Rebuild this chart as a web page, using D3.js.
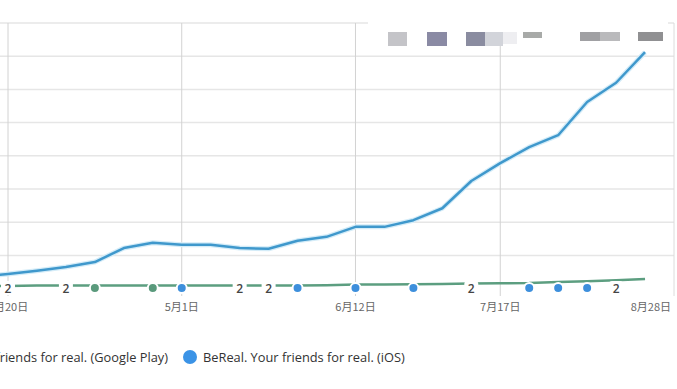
<!DOCTYPE html>
<meta charset="utf-8">
<script src="https://d3js.org/d3.v7.min.js"></script>
<style>
body { margin: 0; background: #fff; }
svg { display: block; }
</style>
<div id="chart"></div>
<script>
// weekly data points (first one sits left of the visible area)
var dates = ["2022-03-13","2022-03-20","2022-03-27","2022-04-03","2022-04-10","2022-04-17",
  "2022-04-24","2022-05-01","2022-05-08","2022-05-15","2022-05-22","2022-05-29","2022-06-05",
  "2022-06-12","2022-06-19","2022-06-26","2022-07-03","2022-07-10","2022-07-17","2022-07-24",
  "2022-07-31","2022-08-07","2022-08-14","2022-08-21"];
var iosValues = [17.5, 22, 27, 32.5, 40, 61, 69, 66, 66, 61, 60, 72, 78, 93, 93, 103, 121, 162,
  189, 213, 231, 281, 310, 356];
var playValues = [4, 4, 4.5, 4.5, 4.7, 4.7, 4.7, 4.7, 4.7, 4.7, 4.7, 4.7, 5, 6, 6, 6.5, 7, 7.5,
  8, 8.5, 10, 11, 12.5, 14.5];
var tickDates = ["2022-03-20","2022-05-01","2022-06-12","2022-07-17","2022-08-28"];
var tickLabels = ["3月20日","5月1日","6月12日","7月17日","8月28日"];
var yTicks = [50, 100, 150, 200, 250, 300, 350, 400];
// event markers along the bottom: "2" = grouped flag, g = Google Play, b = iOS
var markerDates = ["2022-03-20","2022-04-03","2022-04-10","2022-04-24","2022-05-01","2022-05-15",
  "2022-05-22","2022-05-29","2022-06-12","2022-06-26","2022-07-10","2022-07-24","2022-07-31",
  "2022-08-07","2022-08-14"];
var markerTypes = ["2","2","g","g","b","2","2","b","b","b","2","b","b","b","2"];
var seriesNames = ["BeReal. Your friends for real. (Google Play)", "BeReal. Your friends for real. (iOS)"];

var W = 677, H = 389;
var parse = d3.timeParse("%Y-%m-%d");

var svg = d3.select("#chart").append("svg")
  .attr("width", W).attr("height", H);

var x = d3.scaleTime()
  .domain([parse("2022-03-20"), parse("2022-08-28")])
  .range([8, 674]);
var y = d3.scaleLinear()
  .domain([0, 400])
  .range([288.6, 23]);

// horizontal grid
svg.append("g").selectAll("line")
  .data(yTicks).enter().append("line")
    .attr("x1", 0).attr("x2", 674)
    .attr("y1", function(d) { return y(d); })
    .attr("y2", function(d) { return y(d); })
    .attr("stroke", "#e6e6e6")
    .attr("stroke-width", 1.5);

// vertical grid at tick dates
svg.append("g").selectAll("line")
  .data(tickDates).enter().append("line")
    .attr("x1", function(d) { return x(parse(d)); })
    .attr("x2", function(d) { return x(parse(d)); })
    .attr("y1", 23).attr("y2", 296)
    .attr("stroke", function(d, i) { return i == tickDates.length - 1 ? "#dcdcdc" : "#d2d2d2"; })
    .attr("stroke-width", 1);

// tick labels
svg.append("g").selectAll("text")
  .data(tickDates).enter().append("text")
    .attr("x", function(d, i) { return i == tickDates.length - 1 ? 671 : x(parse(d)); })
    .attr("y", 311)
    .attr("text-anchor", function(d, i) { return i == tickDates.length - 1 ? "end" : "middle"; })
    .attr("font-family", "'Noto Sans CJK SC', 'Noto Sans', sans-serif")
    .attr("font-size", "11px")
    .attr("fill", "#666")
    .text(function(d, i) { return tickLabels[i]; });

// lines
var line = d3.line()
  .x(function(d) { return x(parse(d[0])); })
  .y(function(d) { return y(d[1]); });

svg.append("path")
  .datum(d3.zip(dates, playValues))
  .attr("d", line)
  .attr("fill", "none")
  .attr("stroke", "#5c9e80")
  .attr("stroke-width", 2.5);

svg.append("path")
  .datum(d3.zip(dates, iosValues))
  .attr("d", line)
  .attr("fill", "none")
  .attr("stroke", "#d4ecf8")
  .attr("stroke-width", 5)
  .attr("stroke-linejoin", "round");
svg.append("path")
  .datum(d3.zip(dates, iosValues))
  .attr("d", line)
  .attr("fill", "none")
  .attr("stroke", "#3f98cc")
  .attr("stroke-width", 2.5)
  .attr("stroke-linejoin", "round");

// event markers
var markers = svg.append("g").selectAll("g")
  .data(d3.zip(markerDates, markerTypes)).enter().append("g")
    .attr("transform", function(d) { return "translate(" + x(parse(d[0])) + ",288)"; });

markers.filter(function(d) { return d[1] == "2"; }).append("rect")
  .attr("x", -7).attr("y", -7).attr("width", 14).attr("height", 14)
  .attr("rx", 3).attr("fill", "#fff");
markers.filter(function(d) { return d[1] == "2"; }).append("text")
  .attr("text-anchor", "middle")
  .attr("y", 4.5)
  .attr("font-family", "'Open Sans', 'Noto Sans', sans-serif")
  .attr("font-size", "12px")
  .attr("font-weight", 600)
  .attr("fill", "#444")
  .text("2");
markers.filter(function(d) { return d[1] != "2"; }).append("circle")
  .attr("r", 5)
  .attr("fill", function(d) { return d[1] == "g" ? "#5a9a7c" : "#3d8fdc"; })
  .attr("stroke", "#fff")
  .attr("stroke-width", 2);

// blurred watermark box at top right
svg.append("rect").attr("x", 368).attr("y", 0).attr("width", 300).attr("height", 45).attr("fill", "#fff");
var wm = [[388, 32, 19, 14, "#c4c4c8"], [427, 32, 20, 14, "#8a8aa4"], [466, 32, 19, 14, "#8a8ca0"],
  [485, 32, 18, 14, "#d2d4da"], [503, 32, 14, 12, "#eeeef1"], [523, 32, 19, 6, "#a8aaa8"],
  [580, 32, 20, 9, "#a0a0a3"], [600, 32, 20, 9, "#bababc"], [638, 32, 25, 9, "#909092"]];
svg.append("g").selectAll("rect")
  .data(wm).enter().append("rect")
    .attr("x", function(d) { return d[0]; })
    .attr("y", function(d) { return d[1]; })
    .attr("width", function(d) { return d[2]; })
    .attr("height", function(d) { return d[3]; })
    .attr("fill", function(d) { return d[4]; });

// legend
var legend = svg.append("g")
  .attr("font-family", "'Open Sans', 'Noto Sans', sans-serif")
  .attr("font-size", "14px")
  .attr("fill", "#333");
legend.append("circle").attr("cx", -12).attr("cy", 357).attr("r", 7).attr("fill", "#5a9a7c");
var t0 = legend.append("text").attr("x", 168).attr("y", 362).attr("text-anchor", "end").text(seriesNames[0]);
legend.append("circle").attr("cx", 190).attr("cy", 357).attr("r", 7).attr("fill", "#3b93e6");
var t1 = legend.append("text").attr("x", 203).attr("y", 362).text(seriesNames[1]);
// fit the legend font so the iOS label spans about 202px like the source
var fs = 14 * 202 / t1.node().getComputedTextLength();
legend.attr("font-size", fs + "px");
</script>
